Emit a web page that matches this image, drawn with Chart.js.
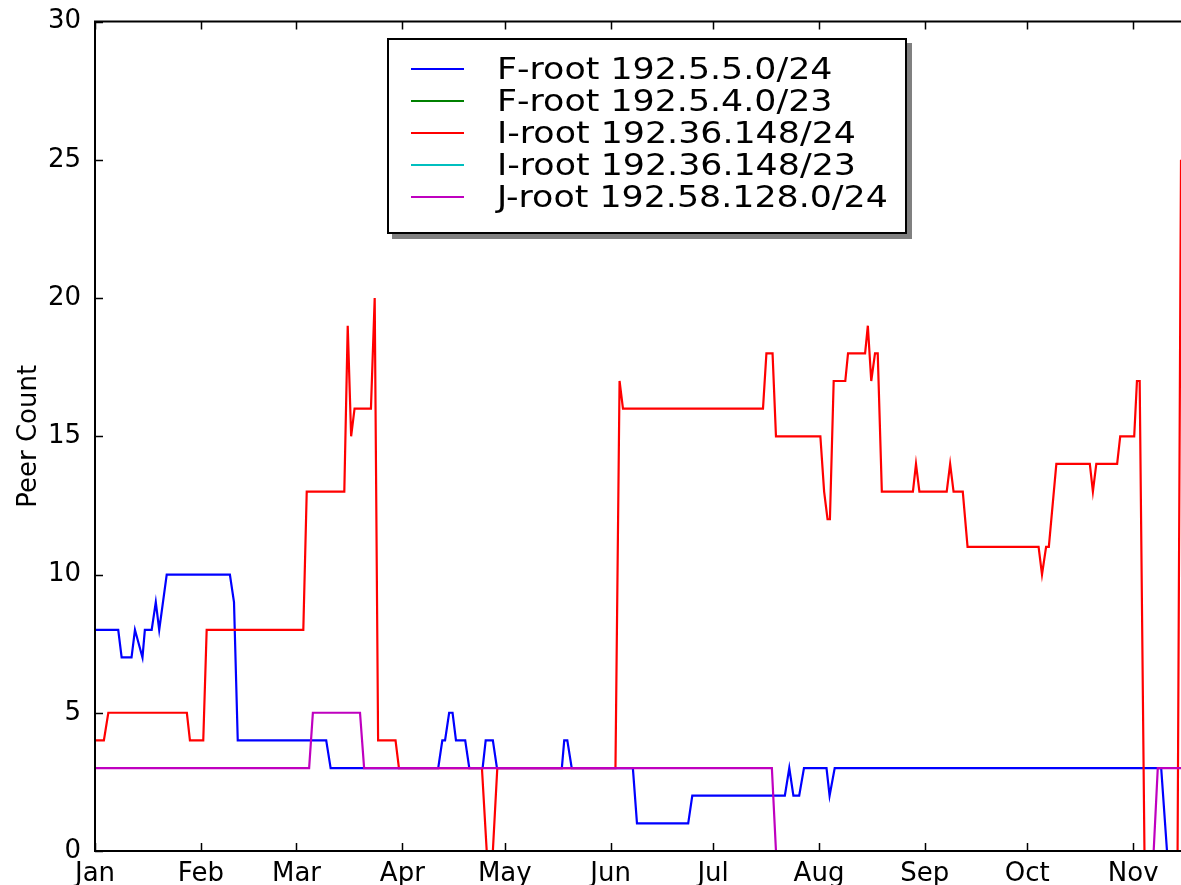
<!DOCTYPE html>
<html>
<head>
<meta charset="utf-8">
<script src="https://cdn.jsdelivr.net/npm/chart.js@4.4.0/dist/chart.umd.min.js"></script>
<style>
  body { margin: 0; background: #fff; overflow: hidden; }
  #wrap { position: relative; width: 1181px; height: 885px; }
  #legend {
    position: absolute; left: 387px; top: 38px; width: 516px; height: 192px;
    border: 2px solid #000; background: #fff; box-shadow: 5px 5px 0 #808080;
    font-family: 'DejaVu Sans', sans-serif; color: #000;
  }
  .row { position: absolute; left: 0; width: 100%; height: 32px; }
  .swatch { position: absolute; left: 22px; top: 14px; width: 53px; height: 2px; }
  .label {
    position: absolute; left: 108px; top: -3px; font-size: 30px; line-height: 36px;
    white-space: nowrap; transform-origin: left center; transform: scaleX(1.16);
  }
</style>
</head>
<body>
<div id="wrap">
  <canvas id="peerChart" width="1181" height="885"></canvas>
  <div id="legend"></div>
</div>
<script>
// x = day of year (0 = Jan 1), y = peer count; vertices
const months = ['Jan', 'Feb', 'Mar', 'Apr', 'May', 'Jun', 'Jul', 'Aug', 'Sep', 'Oct', 'Nov'];
const monthStartDay = [0, 31, 59, 90, 120, 151, 181, 212, 243, 273, 304];

const fRoot24 = [[0,8],[6.8,8],[7.8,7],[10.7,7],[11.7,8],[13.9,7],[14.6,8],[16.6,8],[17.8,9],[18.8,8],[21,10],
  [39.5,10],[40.7,9],[41.8,4],[67.7,4],[69,3],[100.5,3],[101.7,4],[102.5,4],[103.7,5],[104.7,5],[105.7,4],
  [108.4,4],[109.6,3],[113.5,3],[114.4,4],[116.5,4],[117.7,3],[136.7,3],[137.4,4],[138.3,4],[139.6,3],
  [157.5,3],[158.7,1],[173.7,1],[174.9,2],[202,2],[203.3,3],[204.5,2],[206.2,2],[207.6,3],[214.2,3],
  [215.1,2],[216.6,3],[312.2,3],[313.9,0],[318,0]];
const fRoot23 = [[0,0],[318,0]];
const iRoot24 = [[0,4],[2.6,4],[3.9,5],[26.9,5],[27.8,4],[31.7,4],[32.7,8],[61,8],[62,13],[73,13],[74,19],
  [75,15],[76,16],[80.8,16],[81.9,20],[82.9,4],[88,4],[89,3],[113.3,3],[114.7,0],[116.5,0],[117.8,3],
  [152.4,3],[153.6,17],[154.6,16],[195.6,16],[196.6,18],[198.4,18],[199.4,15],[212.4,15],[213.5,13],
  [214.5,12],[215.2,12],[216.3,17],[219.7,17],[220.5,18],[225.5,18],[226.3,19],[227.3,17],[228.4,18],
  [229.2,18],[230.4,13],[239.5,13],[240.4,14],[241.4,13],[249.4,13],[250.4,14],[251.4,13],[254.1,13],
  [255.5,11],[276.3,11],[277.3,10],[278.5,11],[279.3,11],[281.5,14],[291.3,14],[292.2,13],[293.2,14],
  [299.3,14],[300.2,15],[304.3,15],[305.1,17],[305.9,17],[307.3,0],[317,0],[318,25]];
const iRoot23 = [];
const jRoot24 = [[0,3],[62.7,3],[63.8,5],[77.6,5],[78.8,3],[198.2,3],[199.4,0],[310,0],[311.2,3],[318,3]];

const seriesNames = ['F-root 192.5.5.0/24', 'F-root 192.5.4.0/23', 'I-root 192.36.148/24',
  'I-root 192.36.148/23', 'J-root 192.58.128.0/24'];
const seriesColors = ['#0000ff', '#008000', '#ff0000', '#00bfbf', '#bf00bf'];
const seriesData = [fRoot24, fRoot23, iRoot24, iRoot23, jRoot24];

Chart.defaults.font.family = "'DejaVu Sans', sans-serif";
Chart.defaults.font.size = 26;
Chart.defaults.color = '#000';

// matplotlib-style box with inward ticks, drawn over the lines
const framePlugin = {
  id: 'frame',
  afterDatasetsDraw(chart) {
    const { ctx, chartArea: a, scales: { x, y } } = chart;
    ctx.save();
    ctx.strokeStyle = '#000';
    ctx.lineWidth = 2;
    ctx.beginPath();
    ctx.moveTo(a.right + 2, a.top);
    ctx.lineTo(a.left, a.top);
    ctx.lineTo(a.left, a.bottom);
    ctx.lineTo(a.right + 2, a.bottom);
    ctx.stroke();
    ctx.lineWidth = 1.5;
    ctx.beginPath();
    x.ticks.forEach(t => {
      const px = Math.round(x.getPixelForValue(t.value)) + 0.5;
      ctx.moveTo(px, a.bottom); ctx.lineTo(px, a.bottom - 8);
      ctx.moveTo(px, a.top); ctx.lineTo(px, a.top + 8);
    });
    y.ticks.forEach(t => {
      const py = Math.round(y.getPixelForValue(t.value)) + 0.5;
      ctx.moveTo(a.left, py); ctx.lineTo(a.left + 8, py);
    });
    ctx.stroke();
    ctx.restore();
  }
};

const chart = new Chart(document.getElementById('peerChart'), {
  type: 'line',
  data: {
    datasets: seriesData.map((pts, i) => ({
      label: seriesNames[i],
      data: pts.map(p => ({ x: p[0], y: p[1] })),
      borderColor: seriesColors[i],
      backgroundColor: seriesColors[i],
      borderWidth: 2.2,
      pointRadius: 0,
      tension: 0,
      fill: false,
      clip: 0,
      order: seriesData.length - i
    }))
  },
  options: {
    responsive: false,
    animation: false,
    events: [],
    layout: { padding: { top: 10, right: 0, left: 0, bottom: 0 } },
    plugins: { legend: { display: false }, tooltip: { enabled: false } },
    scales: {
      x: {
        type: 'linear',
        min: 0,
        max: 318,
        grid: { display: false },
        border: { display: false },
        afterBuildTicks: axis => { axis.ticks = monthStartDay.map(v => ({ value: v })); },
        afterFit: axis => { axis.height = 34; },
        ticks: {
          autoSkip: false,
          maxRotation: 0,
          padding: 0,
          callback: v => months[monthStartDay.indexOf(v)]
        }
      },
      y: {
        min: 0,
        max: 30,
        grid: { display: false },
        border: { display: false },
        afterFit: axis => { axis.width = 95; },
        ticks: { stepSize: 5, padding: 6 },
        title: { display: true, text: 'Peer Count', font: { size: 26 }, padding: { top: 14, bottom: 0 } }
      }
    }
  },
  plugins: [framePlugin]
});

// legend box built from the chart's datasets
const legend = document.getElementById('legend');
chart.data.datasets.forEach((ds, i) => {
  const row = document.createElement('div');
  row.className = 'row';
  row.style.top = (14 + i * 32) + 'px';
  const sw = document.createElement('div');
  sw.className = 'swatch';
  sw.style.background = ds.borderColor;
  const lb = document.createElement('div');
  lb.className = 'label';
  lb.textContent = ds.label;
  row.appendChild(sw);
  row.appendChild(lb);
  legend.appendChild(row);
});
</script>
</body>
</html>
